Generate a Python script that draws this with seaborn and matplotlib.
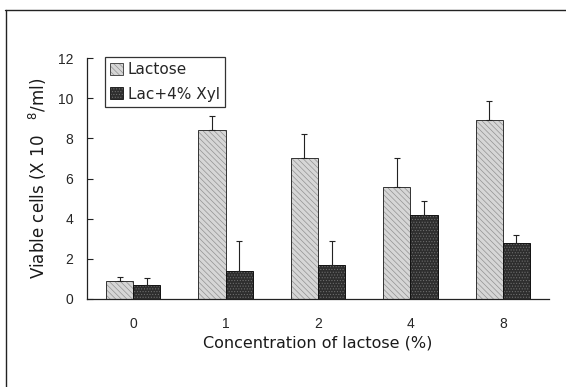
import numpy as np
import pandas as pd
import matplotlib
matplotlib.use("Agg")
import matplotlib.pyplot as plt
from matplotlib.patches import Patch
from matplotlib.lines import Line2D
from matplotlib.colors import to_rgba
import seaborn as sns

# ---- data ----
concentrations = ["0", "1", "2", "4", "8"]
series_names = ["Lactose", "Lac+4% Xyl"]
lactose = [0.9, 8.4, 7.0, 5.6, 8.9]
lactose_err = [0.2, 0.7, 1.2, 1.4, 0.95]
lac_xyl = [0.7, 1.4, 1.7, 4.2, 2.8]
lac_xyl_err = [0.35, 1.5, 1.2, 0.7, 0.4]
y_ticks = [0, 2, 4, 6, 8, 10, 12]

df = pd.DataFrame({
    "conc": concentrations * 2,
    "series": [series_names[0]] * 5 + [series_names[1]] * 5,
    "value": lactose + lac_xyl,
})

sns.set_style("white")
plt.rcParams["font.family"] = ["DejaVu Sans"]
plt.rcParams["hatch.linewidth"] = 0.45

fig = plt.figure(figsize=(5.66, 3.87), dpi=100)
ax = fig.add_axes([0.1537, 0.2274, 0.8163, 0.6227])

face = {"Lactose": "#d6d6d6", "Lac+4% Xyl": "#2e2e2e"}
sns.barplot(data=df, x="conc", y="value", hue="series", order=concentrations,
            hue_order=series_names, palette=face, width=0.59, gap=0,
            errorbar=None, legend=False, ax=ax, saturation=1)

# (face, edge, hatch pattern, hatch colour)
styles = [("#d6d6d6", "#333333", "\\\\\\\\\\\\", "#8c8c8c"),
          ("#2e2e2e", "#111111", "......", "#707070")]
errs = [lactose_err, lac_xyl_err]


def style_patch(p, fc, ec, hatch, hc):
    p.set_facecolor(fc)
    p.set_edgecolor(ec)
    p.set_hatch(hatch)
    p.set_linewidth(0.7)
    p._hatch_color = to_rgba(hc)


for cont, (fc, ec, hatch, hc), err in zip(ax.containers, styles, errs):
    xs, hs = [], []
    for p in cont.patches:
        style_patch(p, fc, ec, hatch, hc)
        xs.append(p.get_x() + p.get_width() / 2)
        hs.append(p.get_height())
    ax.errorbar(xs, hs, yerr=[np.zeros(len(err)), err], fmt="none",
                ecolor="#222222", elinewidth=0.8, capsize=2, capthick=0.8, zorder=1)

ax.set_xlim(-0.5, 4.5)
ax.set_ylim(0, 12)
ax.set_yticks(y_ticks)
ax.set_yticklabels([str(t) for t in y_ticks], fontsize=10, family="Liberation Sans")
ax.set_xticks(range(len(concentrations)))
ax.set_xticklabels(concentrations, fontsize=10, family="Liberation Sans")
ax.set_xticks(np.arange(0.5, 5.0, 1.0), minor=True)
ax.tick_params(axis="x", which="major", length=0, pad=13)
ax.tick_params(axis="x", which="minor", direction="in", length=4, width=0.8, color="#222222")
ax.tick_params(axis="y", which="major", direction="in", length=4, width=0.8, color="#222222", pad=10, left=True)

for s in ["top", "right"]:
    ax.spines[s].set_visible(False)
for s in ["left", "bottom"]:
    ax.spines[s].set_color("#222222")
    ax.spines[s].set_linewidth(0.9)

ax.set_xlabel("Concentration of lactose (%)", fontsize=11.5, labelpad=3, color="#1a1a1a")
ax.set_ylabel("Viable cells (X 10   $^{8}$/ml)", fontsize=12, labelpad=6, color="#1a1a1a")

handles = []
for fc, ec, h, hc in styles:
    hp = Patch(facecolor=fc, edgecolor=ec, hatch=h, linewidth=0.6)
    hp._hatch_color = to_rgba(hc)
    handles.append(hp)
leg = ax.legend(handles, series_names, loc="upper left", bbox_to_anchor=(0.039, 1.004),
                fontsize=11, frameon=True, fancybox=False, edgecolor="black",
                handlelength=0.8, handleheight=0.8, handletextpad=0.35,
                borderpad=0.35, labelspacing=0.6, borderaxespad=0)
leg.get_frame().set_linewidth(0.9)
for lh in leg.legend_handles:
    lh._hatch_color = to_rgba("#8c8c8c") if lh.get_facecolor()[0] > 0.5 else to_rgba("#707070")

# outer scan frame (top and left edges)
fig.add_artist(Line2D([0.009, 1.0], [0.974, 0.974], color="#222222", lw=1.0))
fig.add_artist(Line2D([0.011, 0.011], [0.0, 0.974], color="#222222", lw=1.0))

fig.savefig("out.png", dpi=100)
